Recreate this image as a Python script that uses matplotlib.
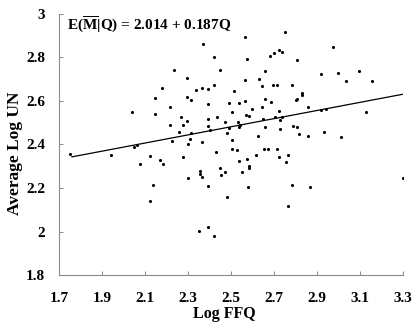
import numpy as np
import matplotlib
matplotlib.use("Agg")
import matplotlib.pyplot as plt

# data (Log FFQ, Average Log UN)
log_ffq = [1.753, 1.942, 2.038, 2.050, 2.064, 2.075, 2.124, 2.124, 2.137, 2.148,
           2.148, 2.169, 2.180, 2.182, 2.214, 2.216, 2.227, 2.234, 2.256, 2.268,
           2.276, 2.278, 2.296, 2.296, 2.296, 2.299, 2.299, 2.309, 2.315, 2.316,
           2.337, 2.349, 2.355, 2.358, 2.364, 2.364, 2.364, 2.372, 2.392, 2.392,
           2.392, 2.392, 2.395, 2.394, 2.403, 2.419, 2.419, 2.422, 2.428, 2.437,
           2.450, 2.447, 2.454, 2.471, 2.474, 2.481, 2.482, 2.490, 2.490, 2.505,
           2.507, 2.507, 2.515, 2.527, 2.532, 2.535, 2.538, 2.536, 2.544, 2.553,
           2.567, 2.567, 2.567, 2.575, 2.572, 2.575, 2.577, 2.583, 2.586, 2.586,
           2.597, 2.617, 2.626, 2.632, 2.643, 2.643, 2.650, 2.653, 2.659, 2.660,
           2.660, 2.670, 2.682, 2.688, 2.694, 2.702, 2.704, 2.715, 2.715, 2.721,
           2.724, 2.725, 2.730, 2.727, 2.736, 2.739, 2.753, 2.756, 2.763, 2.764,
           2.783, 2.786, 2.789, 2.805, 2.806, 2.803, 2.806, 2.817, 2.829, 2.832,
           2.856, 2.859, 2.866, 2.918, 2.918, 2.931, 2.944, 2.973, 2.996, 3.010,
           3.034, 3.094, 3.127, 3.154, 3.299]
avg_log_un = [2.358, 2.352, 2.549, 2.389, 2.396, 2.312, 2.346, 2.139, 2.214, 2.615,
              2.539, 2.329, 2.658, 2.310, 2.571, 2.490, 2.415, 2.741, 2.456, 2.528,
              2.490, 2.343, 2.707, 2.618, 2.510, 2.402, 2.246, 2.425, 2.603, 2.454,
              2.649, 2.001, 2.277, 2.263, 2.661, 2.251, 2.413, 2.861, 2.654, 2.588,
              2.516, 2.485, 2.211, 2.022, 2.467, 2.801, 2.672, 1.979, 2.367, 2.528,
              2.744, 2.294, 2.261, 2.502, 2.272, 2.451, 2.160, 2.589, 2.477, 2.551,
              2.421, 2.381, 2.646, 2.373, 2.505, 2.482, 2.591, 2.326, 2.491, 2.272,
              2.598, 2.698, 2.893, 2.793, 2.534, 2.335, 2.206, 2.533, 2.303, 2.294,
              2.565, 2.352, 2.441, 2.701, 2.669, 2.574, 2.517, 2.381, 2.482, 2.738,
              2.609, 2.381, 2.808, 2.597, 2.674, 2.819, 2.525, 2.381, 2.672, 2.836,
              2.552, 2.341, 2.469, 2.513, 2.525, 2.827, 2.919, 2.318, 2.350, 2.119,
              2.214, 2.674, 2.487, 2.789, 2.480, 2.606, 2.611, 2.447, 2.635, 2.628,
              2.439, 2.574, 2.205, 2.724, 2.560, 2.456, 2.563, 2.848, 2.727, 2.436,
              2.690, 2.736, 2.551, 2.692, 2.248]

intercept = 2.014
slope = 0.187
line_range = [1.76, 3.3]

x_ticks = [1.7, 1.9, 2.1, 2.3, 2.5, 2.7, 2.9, 3.1, 3.3]
y_ticks = [1.8, 2.0, 2.2, 2.4, 2.6, 2.8, 3.0]
y_tick_labels = ["1.8", "2", "2.2", "2.4", "2.6", "2.8", "3"]

plt.rcParams["font.family"] = "Liberation Serif"
plt.rcParams["font.weight"] = "bold"
plt.rcParams["mathtext.fontset"] = "custom"
plt.rcParams["mathtext.rm"] = "Liberation Serif:bold"
plt.rcParams["mathtext.it"] = "Liberation Serif:bold"
plt.rcParams["mathtext.bf"] = "Liberation Serif:bold"

fig = plt.figure(figsize=(4.14, 3.25), dpi=100)
ax = fig.add_axes([0.1425, 0.1538, 0.8309, 0.8032])

ax.scatter(log_ffq, avg_log_un, s=5, color="black", linewidths=0, zorder=3)

lx = np.array(line_range)
ax.plot(lx, intercept + slope * lx, color="black", linewidth=0.9)

ax.set_xlim(1.7, 3.3)
ax.set_ylim(1.8, 3.0)
ax.set_xticks(x_ticks)
ax.set_xticklabels([f"{t:.1f}" for t in x_ticks])
ax.set_yticks(y_ticks)
ax.set_yticklabels(y_tick_labels)

for side in ["top", "right"]:
    ax.spines[side].set_visible(False)
for side in ["left", "bottom"]:
    ax.spines[side].set_color("#8a8a8a")
    ax.spines[side].set_linewidth(0.8)

ax.tick_params(axis="x", direction="in", length=3, width=0.7, color="#8a8a8a",
               labelsize=11, pad=12.5)
ax.tick_params(axis="y", direction="in", length=3, width=0.7, color="#8a8a8a",
               labelsize=11, pad=10)

ax.set_xlabel("Log FFQ", fontsize=11.5, fontweight="bold")
ax.xaxis.set_label_coords(0.48, -0.119)
ax.set_ylabel("Average Log UN", fontsize=12.5, fontweight="bold")
ax.yaxis.set_label_coords(-0.106, 0.466)

ax.text(0.023, 0.958, r"E($\overline{\mathrm{M}}$|Q) = 2.014 + 0.187Q",
        transform=ax.transAxes, fontsize=11, fontweight="bold", va="center", ha="left")

fig.savefig("out.png", dpi=100)
